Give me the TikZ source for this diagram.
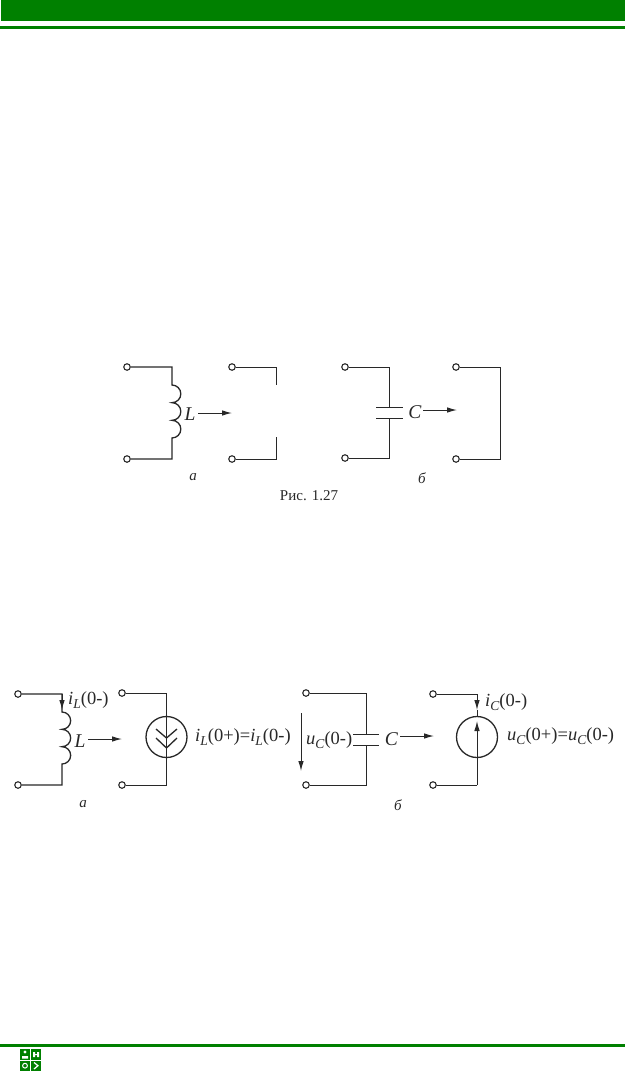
\documentclass[tikz,border=0pt]{standalone}
\usepackage{fontspec}
\setmainfont{Liberation Serif}
\usetikzlibrary{arrows.meta}
\definecolor{barg}{RGB}{0,128,0}
\definecolor{ink}{RGB}{40,40,40}
\newcommand{\vi}[2]{\textit{#1}\raisebox{-0.55ex}{\fontsize{13.5}{13.5}\selectfont\textit{#2}}}
\tikzset{
  x=1pt,y=-1pt,
  term/.style={circle,draw=ink,fill=white,line width=1.1pt,inner sep=0pt,minimum size=6.5pt},
  wire/.style={draw=ink,line width=1pt},
  coil/.style={draw=ink,line width=1.3pt},
  flow/.style={draw=ink,line width=1pt,-{Latex[length=10pt,width=5.5pt]}},
  lab/.style={inner sep=0pt,text=ink,font=\fontsize{18.5}{18.5}\selectfont},
  big/.style={inner sep=0pt,text=ink,font=\fontsize{19.5}{19.5}\selectfont},
  subl/.style={inner sep=0pt,text=ink,font=\fontsize{15}{15}\selectfont\itshape},
  captext/.style={inner sep=0pt,text=ink,font=\fontsize{15}{15}\selectfont},
  src/.style={circle,draw=ink,line width=1.3pt,inner sep=0pt,minimum size=41pt}
}
\begin{document}
\begin{tikzpicture}
\useasboundingbox (0,0) rectangle (625,1072);
\fill[white] (0,0) rectangle (625,1072);
% page bars
\fill[barg] (1,0) rectangle (625,20.5);
\fill[barg] (0,26) rectangle (625,29);
\fill[barg] (0,1043.5) rectangle (625,1046.5);
% logo
\fill[barg] (20,1049) rectangle (30,1059.5);
\fill[barg] (31,1049) rectangle (41,1059.5);
\fill[barg] (20,1060.5) rectangle (30,1071);
\fill[barg] (31,1060.5) rectangle (41,1071);
\fill[white] (25,1052) circle (1.6) (22,1058.5) rectangle (28,1056);
\fill[white] (33,1052) rectangle (35,1057) (37,1052) rectangle (39,1057) (35,1054) rectangle (37,1055);
\draw[white,line width=1pt] (25,1065.7) circle (2.4);
\draw[white,line width=1.2pt] (34,1062.5) -- (38,1065.7) -- (34,1069);

% ===== Fig 1.27 a
\node[term] (t1) at (127,367) {};
\node[term] (t2) at (127,459) {};
\coordinate (c1a) at (172,367);
\coordinate (c1b) at (172,385);
\coordinate (c1d) at (172,459);
\draw[coil] (t1) -- (c1a) -- (c1b) arc[start angle=-90,end angle=90,radius=8.83]
  arc[start angle=-90,end angle=90,radius=8.83] arc[start angle=-90,end angle=90,radius=8.83]
  -- (c1d) -- (t2);
\node[big] (l1) at (190,414) {\textit{L}};
\coordinate (a1s) at (198,413); \coordinate (a1e) at (232,413);
\draw[flow] (a1s) -- (a1e);
\node[term] (t3) at (232,367) {};
\node[term] (t4) at (232,459) {};
\coordinate (o1a) at (276,367); \coordinate (o1b) at (276,385);
\coordinate (o1c) at (276,437); \coordinate (o1d) at (276,459);
\draw[wire] (t3) -- (o1a) -- (o1b);
\draw[wire] (t4) -- (o1d) -- (o1c);
\node[subl] (s1) at (193,477) {а};
\node[captext] (capt) at (309,496) {Рис. 1.27};

% ===== Fig 1.27 b
\node[term] (t5) at (345,367) {};
\node[term] (t6) at (345,458) {};
\coordinate (c2a) at (389,367); \coordinate (c2b) at (389,407);
\coordinate (c2c) at (389,418); \coordinate (c2d) at (389,458);
\coordinate (p1l) at (376,407); \coordinate (p1r) at (403,407);
\coordinate (p2l) at (376,418); \coordinate (p2r) at (403,418);
\draw[wire] (t5) -- (c2a) -- (c2b);
\draw[wire] (t6) -- (c2d) -- (c2c);
\draw[wire] (p1l) -- (p1r);
\draw[wire] (p2l) -- (p2r);
\node[big] (l2) at (415,412) {\textit{C}};
\coordinate (a2s) at (423,410); \coordinate (a2e) at (457,410);
\draw[flow] (a2s) -- (a2e);
\node[term] (t7) at (456,367) {};
\node[term] (t8) at (456,459) {};
\coordinate (o2a) at (500,367); \coordinate (o2b) at (500,459);
\draw[wire] (t7) -- (o2a) -- (o2b) -- (t8);
\node[subl] (s2) at (422,478) {б};

% ===== Fig lower a
\node[term] (t9) at (18,694) {};
\node[term] (t10) at (18,785) {};
\coordinate (c3a) at (62,694); \coordinate (c3b) at (62,712);
\coordinate (c3c) at (62,785);
\draw[coil] (t9) -- (c3a) -- (c3b) arc[start angle=-90,end angle=90,radius=8.67]
  arc[start angle=-90,end angle=90,radius=8.67] arc[start angle=-90,end angle=90,radius=8.67]
  -- (c3c) -- (t10);
\coordinate (a3e) at (62,710);
\draw[flow] (c3a) -- (a3e);
\node[lab,anchor=west] (l3) at (68,700) {\vi{i}{L}(0-)};
\node[big] (l4) at (80,741) {\textit{L}};
\coordinate (a4s) at (88,739); \coordinate (a4e) at (122,739);
\draw[flow] (a4s) -- (a4e);
\node[term] (t11) at (122,693) {};
\node[term] (t12) at (122,785) {};
\node[src] (J1) at (166.5,737) {};
\coordinate (c4a) at (166.5,693); \coordinate (c4b) at (166.5,785);
\draw[wire] (t11) -- (c4a) -- (J1.north);
\draw[wire] (J1.north) -- (J1.south);
\draw[wire] (J1.south) -- (c4b) -- (t12);
\coordinate (ch1l) at (156,729); \coordinate (ch1m) at (166.5,738); \coordinate (ch1r) at (177,729);
\coordinate (ch2l) at (156,738); \coordinate (ch2m) at (166.5,748); \coordinate (ch2r) at (177,738);
\draw[coil] (ch1l) -- (ch1m) -- (ch1r);
\draw[coil] (ch2l) -- (ch2m) -- (ch2r);
\node[lab,anchor=west] (l5) at (195,737) {\vi{i}{L}(0+)=\vi{i}{L}(0-)};
\node[subl] (s3) at (83,804) {а};

% ===== Fig lower b
\node[term] (t13) at (306,693) {};
\node[term] (t14) at (306,785) {};
\coordinate (c5a) at (366,693); \coordinate (c5b) at (366,734);
\coordinate (c5c) at (366,745); \coordinate (c5d) at (366,785);
\coordinate (p3l) at (353,734); \coordinate (p3r) at (379,734);
\coordinate (p4l) at (353,745); \coordinate (p4r) at (379,745);
\draw[wire] (t13) -- (c5a) -- (c5b);
\draw[wire] (t14) -- (c5d) -- (c5c);
\draw[wire] (p3l) -- (p3r);
\draw[wire] (p4l) -- (p4r);
\coordinate (a5s) at (301,713); \coordinate (a5e) at (301,771);
\draw[flow] (a5s) -- (a5e);
\node[lab,anchor=west] (l6) at (306,740) {\vi{u}{C}(0-)};
\node[big] (l7) at (391.5,739) {\textit{C}};
\coordinate (a6s) at (400,736); \coordinate (a6e) at (434,736);
\draw[flow] (a6s) -- (a6e);
\node[term] (t15) at (433,694) {};
\node[term] (t16) at (433,785) {};
\node[src] (E1) at (477,737) {};
\coordinate (c6a) at (477,694); \coordinate (c6m) at (477,710);
\coordinate (c6b) at (477,785); \coordinate (c6u) at (477,721);
\draw[wire] (t15) -- (c6a);
\draw[flow] (c6a) -- (c6m);
\draw[wire] (c6m) -- (E1.north);
\draw[flow] (c6b) -- (c6u);
\draw[wire] (c6b) -- (t16);
\node[lab,anchor=west] (l8) at (485,702) {\vi{i}{C}(0-)};
\node[lab,anchor=west] (l9) at (507,736) {\vi{u}{C}(0+)=\vi{u}{C}(0-)};
\node[subl] (s4) at (398,805) {б};
\end{tikzpicture}
\end{document}
